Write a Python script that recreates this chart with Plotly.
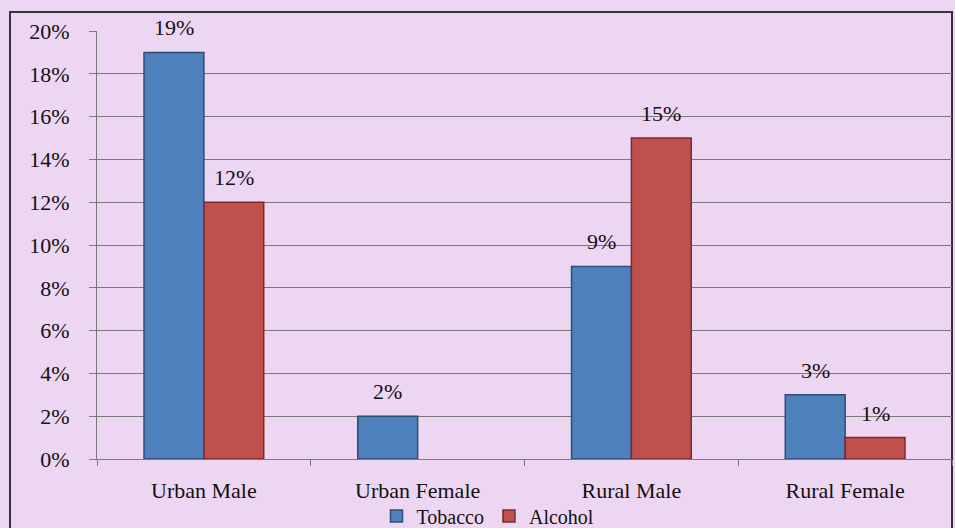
import plotly.graph_objects as go

categories = ["Urban Male", "Urban Female", "Rural Male", "Rural Female"]
tobacco = [19, 2, 9, 3]
alcohol = [12, 0, 15, 1]
y_ticks = [0, 2, 4, 6, 8, 10, 12, 14, 16, 18, 20]
y_tick_labels = [f"{v}%" for v in y_ticks]

font_family = "Liberation Serif, Times New Roman, serif"
FS = 22

W, H = 955, 528
L, R, T, B = 97, 3, 31, 69
pw, ph = W - L - R, H - T - B
BARGAP = 0.44

def px_x(p):
    return (p - L) / pw

def px_y(p):
    return (H - B - p) / ph

fig = go.Figure()
series = [("Tobacco", tobacco, "#4F81BD", "#2C4D75"),
          ("Alcohol", alcohol, "#C0504D", "#772C2A")]
for name, vals, col, edge in series:
    fig.add_trace(go.Bar(
        name=name, x=categories, y=vals,
        marker=dict(color=col,
                    line=dict(color=edge, width=[1.5 if v > 0 else 0 for v in vals])),
        cliponaxis=False,
    ))

# data labels above bars
cat_px = pw / len(categories)
bar_px = cat_px * (1 - BARGAP) / len(series)
annotations = []
for i, (name, vals, col, edge) in enumerate(series):
    offset = (i - (len(series) - 1) / 2) * bar_px
    for c, v in zip(categories, vals):
        if v <= 0:
            continue
        annotations.append(dict(
            x=c, y=v, xref="x", yref="y", text=f"{v}%",
            showarrow=False, xanchor="center", yanchor="bottom",
            xshift=offset, yshift=10,
            font=dict(size=FS, family=font_family, color="#111111"),
        ))

fig.update_layout(
    width=W, height=H,
    margin=dict(l=L, r=R, t=T, b=B, autoexpand=False),
    paper_bgcolor="#EDD6F2",
    plot_bgcolor="rgba(0,0,0,0)",
    barmode="group",
    bargap=BARGAP,
    bargroupgap=0.0,
    font=dict(family=font_family, size=FS, color="#111111"),
    showlegend=True,
    legend=dict(
        orientation="h", x=px_x(488), xanchor="center",
        y=px_y(516), yanchor="middle",
        font=dict(size=20, family=font_family),
        bgcolor="rgba(0,0,0,0)", borderwidth=0,
        itemwidth=30, tracegroupgap=0,
    ),
    annotations=annotations,
)
fig.update_yaxes(
    range=[0, 20], tickvals=y_ticks, ticktext=y_tick_labels,
    showgrid=True, gridcolor="#7A7A7A", gridwidth=1,
    showline=True, linecolor="#7A7A7A", linewidth=1,
    ticks="outside", ticklen=7, tickcolor="#7A7A7A",
    ticklabelstandoff=15, automargin=False,
    tickfont=dict(size=FS, family=font_family),
    zeroline=False, fixedrange=True,
)
fig.update_xaxes(
    showline=True, linecolor="#7A7A7A", linewidth=1,
    ticks="outside", tickson="boundaries", ticklen=6, tickcolor="#7A7A7A",
    ticklabelstandoff=12, automargin=False,
    tickfont=dict(size=FS, family=font_family),
    fixedrange=True,
)

fig.add_shape(
    type="rect", xref="paper", yref="paper",
    x0=px_x(10), x1=px_x(952), y0=px_y(535), y1=px_y(12),
    line=dict(color="#333333", width=2), fillcolor="rgba(0,0,0,0)",
    layer="below",
)

fig.write_html("out.html")
